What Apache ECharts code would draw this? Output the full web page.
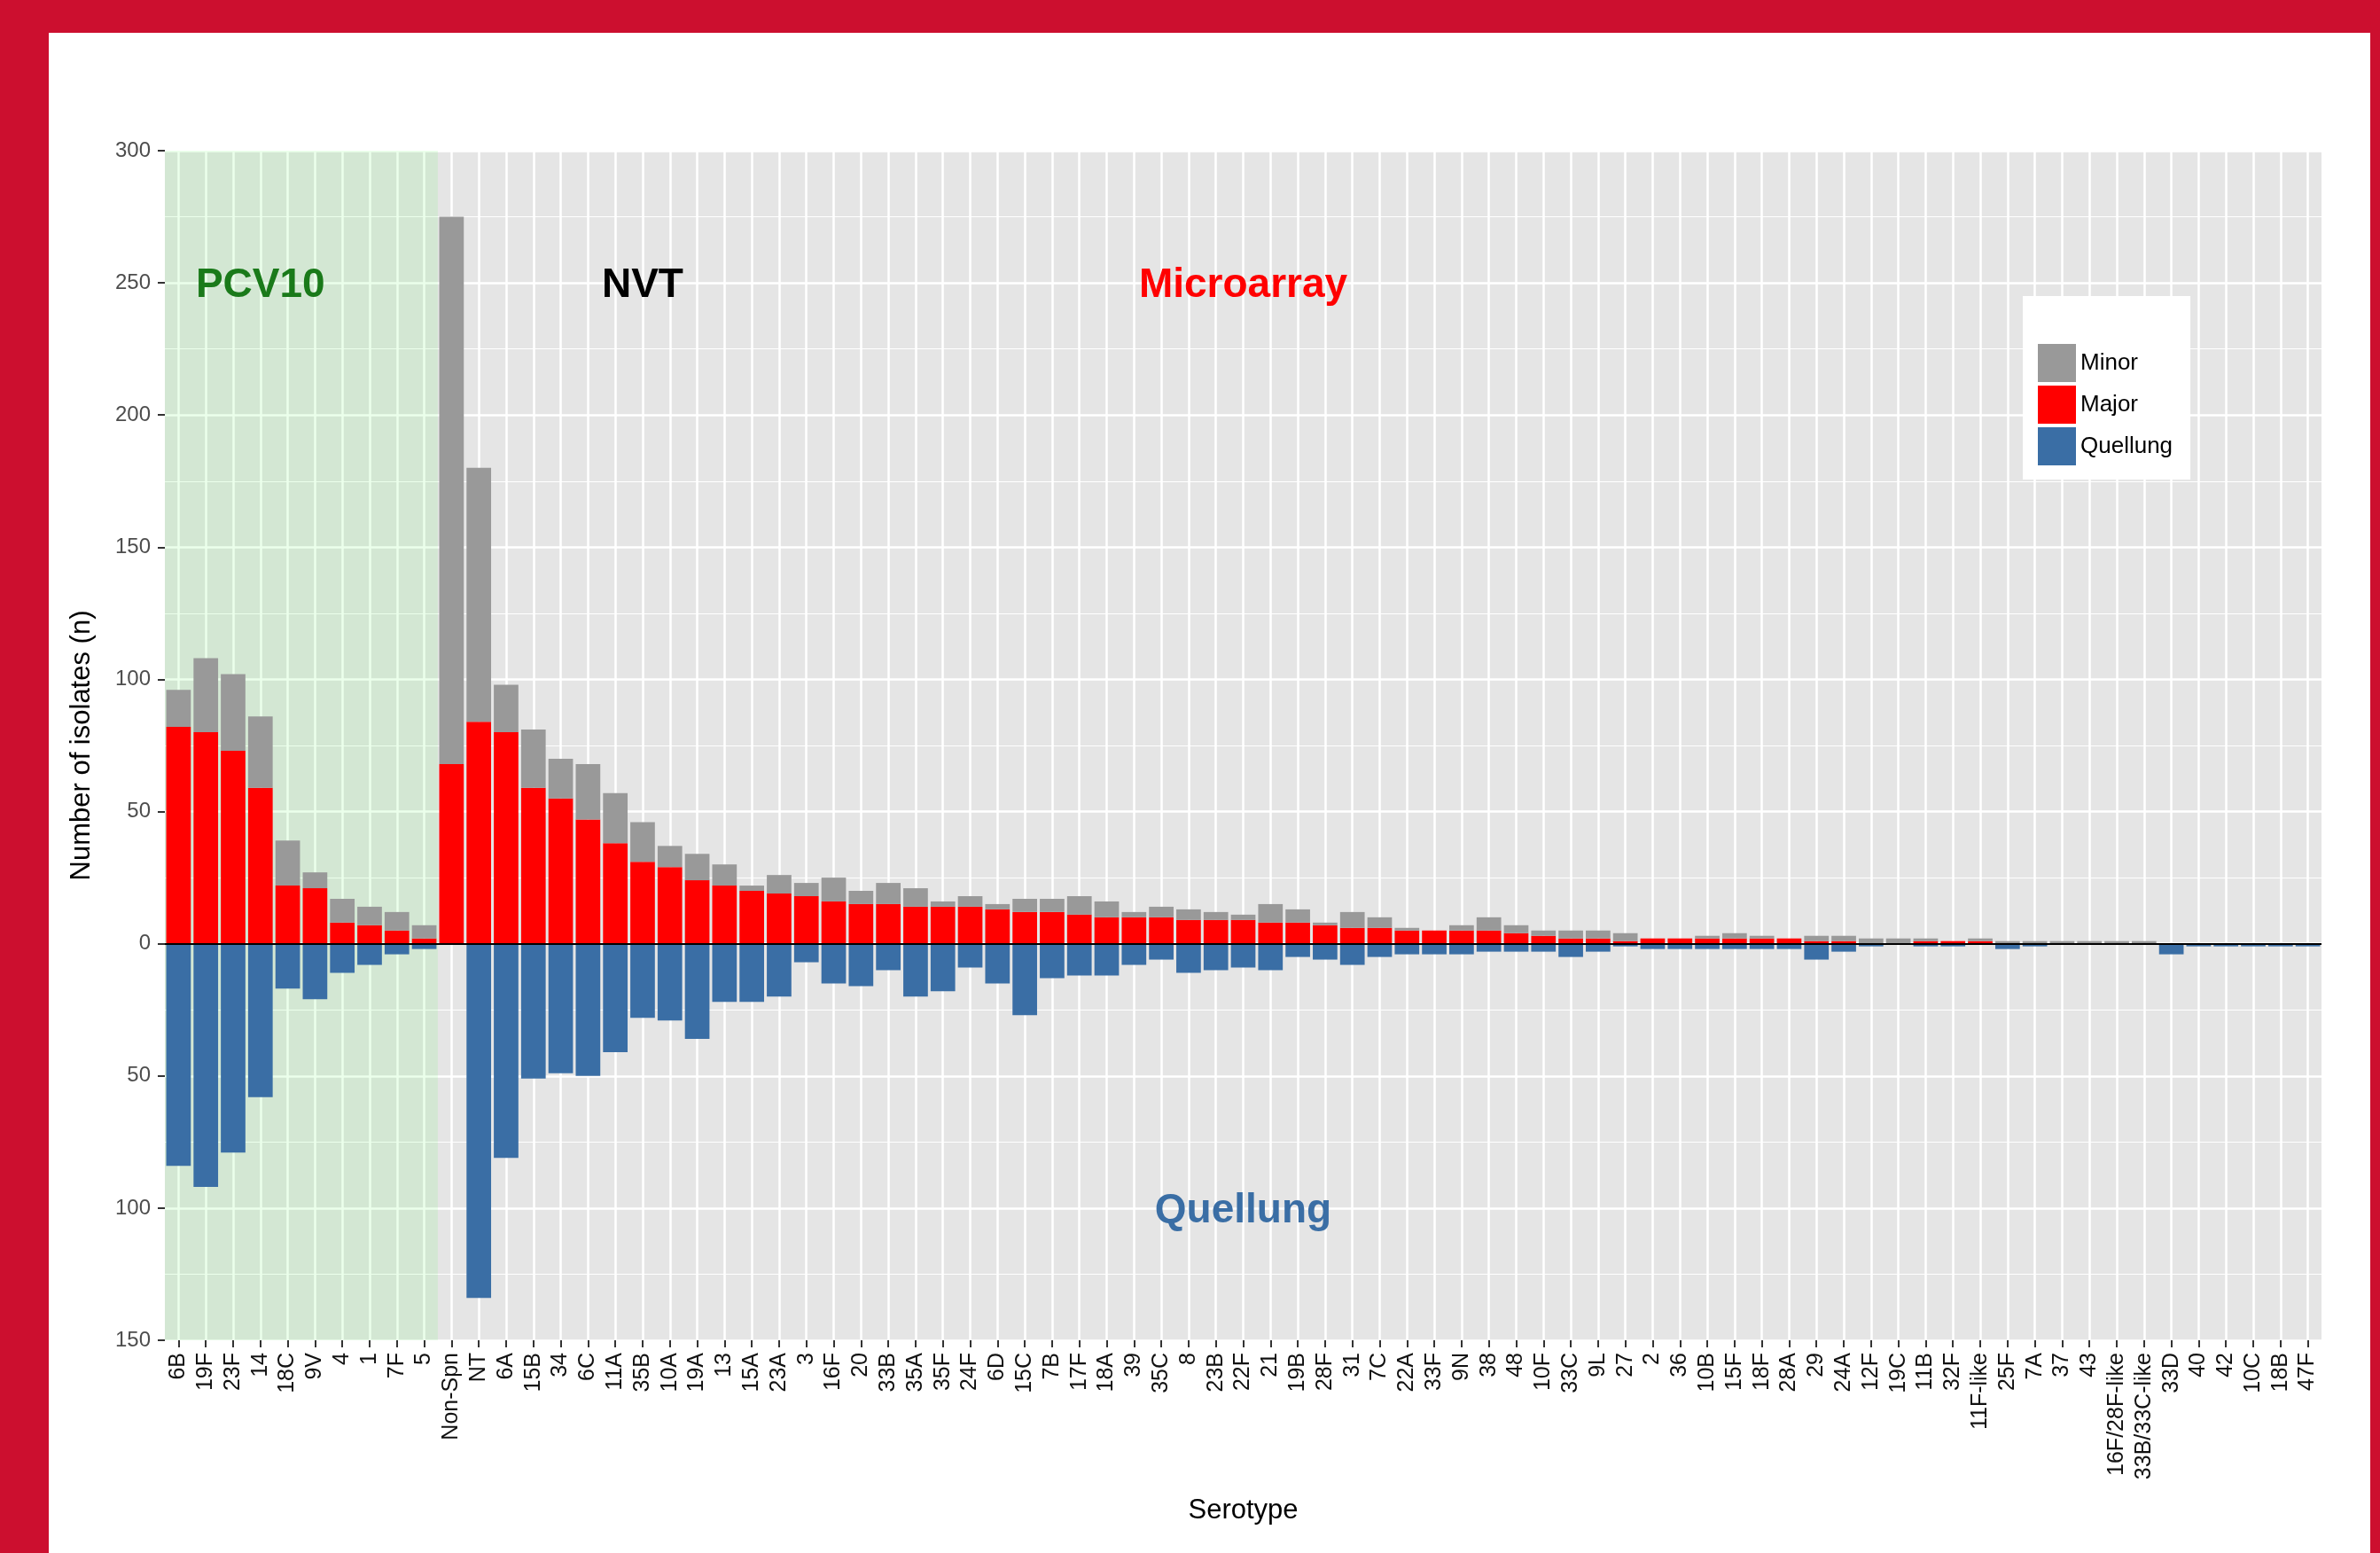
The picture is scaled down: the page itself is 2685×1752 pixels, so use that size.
<!DOCTYPE html>
<html>
<head>
<meta charset="utf-8">
<title>Serotype</title>
<script src="https://cdn.jsdelivr.net/npm/echarts@6/dist/echarts.min.js"></script>
<style>
  html, body { margin: 0; padding: 0; }
  body { background: #cc0f2f; width: 2685px; height: 1752px; overflow: hidden; position: relative; }
  #chart { position: absolute; left: 55px; top: 37px; width: 2619px; height: 1715px; background: #fff; }
</style>
</head>
<body>
<div id="chart"></div>
<script>
// serotypes in plot order
const serotypes = ["6B", "19F", "23F", "14", "18C", "9V", "4", "1", "7F", "5",
  "Non-Spn", "NT", "6A", "15B", "34", "6C", "11A", "35B", "10A", "19A",
  "13", "15A", "23A", "3", "16F", "20", "33B", "35A", "35F", "24F",
  "6D", "15C", "7B", "17F", "18A", "39", "35C", "8", "23B", "22F",
  "21", "19B", "28F", "31", "7C", "22A", "33F", "9N", "38", "48",
  "10F", "33C", "9L", "27", "2", "36", "10B", "15F", "18F", "28A",
  "29", "24A", "12F", "19C", "11B", "32F", "11F-like", "25F", "7A", "37",
  "43", "16F/28F-like", "33B/33C-like", "33D", "40", "42", "10C", "18B", "47F"];

// microarray major calls (red)
const major = [82, 80, 73, 59, 22, 21, 8, 7, 5, 2,
  68, 84, 80, 59, 55, 47, 38, 31, 29, 24,
  22, 20, 19, 18, 16, 15, 15, 14, 14, 14,
  13, 12, 12, 11, 10, 10, 10, 9, 9, 9,
  8, 8, 7, 6, 6, 5, 5, 5, 5, 4,
  3, 2, 2, 1, 2, 2, 2, 2, 2, 2,
  1, 1, 0, 0, 1, 1, 1, 0, 0, 0,
  0, 0, 0, 0, 0, 0, 0, 0, 0];

// microarray minor calls (grey, stacked on top of major)
const minor = [14, 28, 29, 27, 17, 6, 9, 7, 7, 5,
  207, 96, 18, 22, 15, 21, 19, 15, 8, 10,
  8, 2, 7, 5, 9, 5, 8, 7, 2, 4,
  2, 5, 5, 7, 6, 2, 4, 4, 3, 2,
  7, 5, 1, 6, 4, 1, 0, 2, 5, 3,
  2, 3, 3, 3, 0, 0, 1, 2, 1, 0,
  2, 2, 2, 2, 1, 0, 1, 1, 1, 1,
  1, 1, 1, 0, 0, 0, 0, 0, 0];

// quellung counts (blue, drawn below zero)
const quellung = [84, 92, 79, 58, 17, 21, 11, 8, 4, 2,
  0, 134, 81, 51, 49, 50, 41, 28, 29, 36,
  22, 22, 20, 7, 15, 16, 10, 20, 18, 9,
  15, 27, 13, 12, 12, 8, 6, 11, 10, 9,
  10, 5, 6, 8, 5, 4, 4, 4, 3, 3,
  3, 5, 3, 1, 2, 2, 2, 2, 2, 2,
  6, 3, 1, 0, 1, 1, 0, 2, 1, 0,
  0, 0, 0, 4, 1, 1, 1, 1, 1];

const pcvCount = serotypes.indexOf("Non-Spn"); // PCV10 serotypes come first

const font = "Liberation Sans, Arial, Helvetica, sans-serif";

var myChart = echarts.init(document.getElementById("chart"));

var option = {
  animation: false,
  textStyle: { fontFamily: font },
  grid: {
    left: 131, right: 55, top: 133, bottom: 240,
    show: true, backgroundColor: "#e5e5e5", borderWidth: 0
  },
  legend: {
    data: ["Minor", "Major", "Quellung"],
    orient: "vertical",
    left: 2227, top: 297,
    backgroundColor: "#fff",
    padding: [54, 20, 16, 17],
    itemWidth: 43, itemHeight: 43, itemGap: 4,
    icon: "rect",
    textStyle: { fontSize: 26, color: "#000", fontFamily: font }
  },
  xAxis: [
    {
      type: "category",
      data: serotypes,
      name: "Serotype",
      nameLocation: "middle",
      nameGap: 177,
      nameTextStyle: { fontSize: 31, color: "#000", fontFamily: font },
      axisLine: { show: false, onZero: false },
      axisTick: { show: true, alignWithLabel: true, length: 8, lineStyle: { color: "#333", width: 2 } },
      splitLine: { show: true, alignWithLabel: true, lineStyle: { color: "#fff", width: 2.5 } },
      axisLabel: { interval: 0, rotate: 90, fontSize: 25, color: "#111", margin: 14, fontFamily: font }
    },
    { type: "value", min: 0, max: serotypes.length, show: false }
  ],
  yAxis: {
    type: "value",
    min: -150, max: 300, interval: 50,
    name: "Number of isolates (n)",
    nameLocation: "middle",
    nameGap: 78,
    nameTextStyle: { fontSize: 31, color: "#000", fontFamily: font },
    axisLine: { show: false },
    axisTick: { show: true, length: 8, lineStyle: { color: "#333", width: 2 } },
    axisLabel: {
      fontSize: 24, color: "#4d4d4d", margin: 16, fontFamily: font,
      formatter: function (v) { return Math.abs(v); }
    },
    splitLine: { show: true, lineStyle: { color: "#fff", width: 2.5 } },
    minorTick: { show: false, splitNumber: 2 },
    minorSplitLine: { show: true, lineStyle: { color: "#fff", width: 1.2 } }
  },
  series: [
    {
      // PCV10 shading
      type: "line", xAxisIndex: 1, data: [], z: 1, silent: true,
      markArea: {
        silent: true,
        itemStyle: { color: "rgba(0,255,0,0.08)" },
        data: [[{ xAxis: 0, yAxis: -150 }, { xAxis: pcvCount, yAxis: 300 }]]
      }
    },
    {
      name: "Major", type: "bar", stack: "n", data: major,
      barCategoryGap: "10%",
      itemStyle: { color: "#ff0000" }
    },
    {
      name: "Minor", type: "bar", stack: "n", data: minor,
      itemStyle: { color: "#999999" },
      markPoint: {
        symbol: "rect", symbolSize: 1,
        itemStyle: { color: "rgba(0,0,0,0)" },
        label: { show: true, position: "inside", offset: [0, 3], formatter: "{b}", fontSize: 46, fontWeight: "bold", fontFamily: font },
        data: [
          { name: "PCV10", coord: [serotypes.indexOf("14"), 250], label: { color: "#1a7a1a" } },
          { name: "NVT", coord: [serotypes.indexOf("35B"), 250], label: { color: "#000" } },
          { name: "Microarray", coord: [serotypes.indexOf("22F"), 250], label: { color: "#ff0000" } },
          { name: "Quellung", coord: [serotypes.indexOf("22F"), -100], label: { color: "#3a6ea5" } }
        ]
      }
    },
    {
      name: "Quellung", type: "bar", stack: "n",
      data: quellung.map(function (v) { return -v; }),
      itemStyle: { color: "#3a6ea5" },
      markLine: {
        silent: true, symbol: "none",
        label: { show: false },
        lineStyle: { color: "#000", width: 2, type: "solid" },
        data: [{ yAxis: 0 }]
      }
    }
  ]
};

myChart.setOption(option);
</script>
</body>
</html>
